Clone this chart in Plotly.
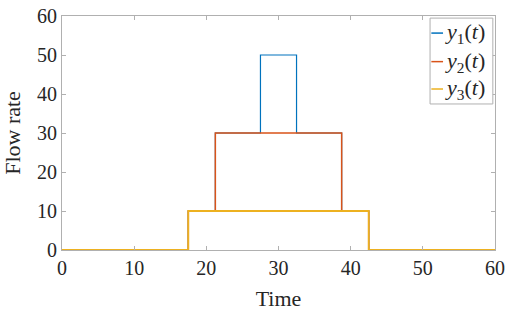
import plotly.graph_objects as go

# Data (step profiles)
t1 = [0, 17.5, 17.5, 21.25, 21.25, 27.5, 27.5, 32.5, 32.5, 38.75, 38.75, 42.5, 42.5, 60]
y1 = [0, 0, 10, 10, 30, 30, 50, 50, 30, 30, 10, 10, 0, 0]
t2 = [0, 17.5, 17.5, 21.25, 21.25, 38.75, 38.75, 42.5, 42.5, 60]
y2 = [0, 0, 10, 10, 30, 30, 10, 10, 0, 0]
t3 = [0, 17.5, 17.5, 42.5, 42.5, 60]
y3 = [0, 0, 10, 10, 0, 0]
names = ["<i>y</i><sub>1</sub>(<i>t</i>)", "<i>y</i><sub>2</sub>(<i>t</i>)", "<i>y</i><sub>3</sub>(<i>t</i>)"]
colors = ["#0072BD", "#D95319", "#EDB120"]
widths = [1.2, 1.5, 1.8]
xticks = [0, 10, 20, 30, 40, 50, 60]
yticks = [0, 10, 20, 30, 40, 50, 60]

SERIF = "Liberation Serif"
TXT = "#262626"
GRAY = "#b0b0b0"

fig = go.Figure()
for t, y, n, c, w in zip([t1, t2, t3], [y1, y2, y3], names, colors, widths):
    fig.add_trace(go.Scatter(x=t, y=y, mode="lines", name=n, showlegend=False,
                             line=dict(color=c, width=w)))

axis_common = dict(showgrid=False, zeroline=False, showline=True, linecolor=GRAY,
                   linewidth=1, mirror="ticks", ticks="inside", ticklen=4, automargin=False,
                   tickcolor=GRAY, tickfont=dict(family=SERIF, size=20, color=TXT))
fig.update_xaxes(range=[0, 60], tickvals=xticks,
                 title=dict(text="Time", font=dict(family=SERIF, size=22, color=TXT)), **axis_common)
fig.update_yaxes(range=[0, 60], tickvals=yticks,
                 title=dict(text="Flow rate", font=dict(family=SERIF, size=22, color=TXT)), **axis_common)

# Legend (box, short line samples, labels) in paper coordinates
leg_y = [0.927, 0.805, 0.688]
fig.add_shape(type="rect", xref="paper", yref="paper", x0=0.850, x1=0.995, y0=0.624, y1=0.991,
              line=dict(color=GRAY, width=1), fillcolor="white", layer="above")
for n, c, ly in zip(names, colors, leg_y):
    fig.add_shape(type="line", xref="paper", yref="paper", x0=0.853, x1=0.880, y0=ly, y1=ly,
                  line=dict(color=c, width=1.5), layer="above")
    fig.add_annotation(xref="paper", yref="paper", x=0.880, y=ly, text=n, showarrow=False,
                       xanchor="left", yanchor="middle",
                       font=dict(family=SERIF, size=22, color=TXT))

fig.update_layout(
    width=509, height=311,
    margin=dict(l=62, r=14, t=16, b=61),
    paper_bgcolor="white", plot_bgcolor="white",
    showlegend=False,
)
fig.write_html("out.html", config={"displayModeBar": False},
               post_script="document.body.style.margin='0';document.body.style.overflow='hidden';")
